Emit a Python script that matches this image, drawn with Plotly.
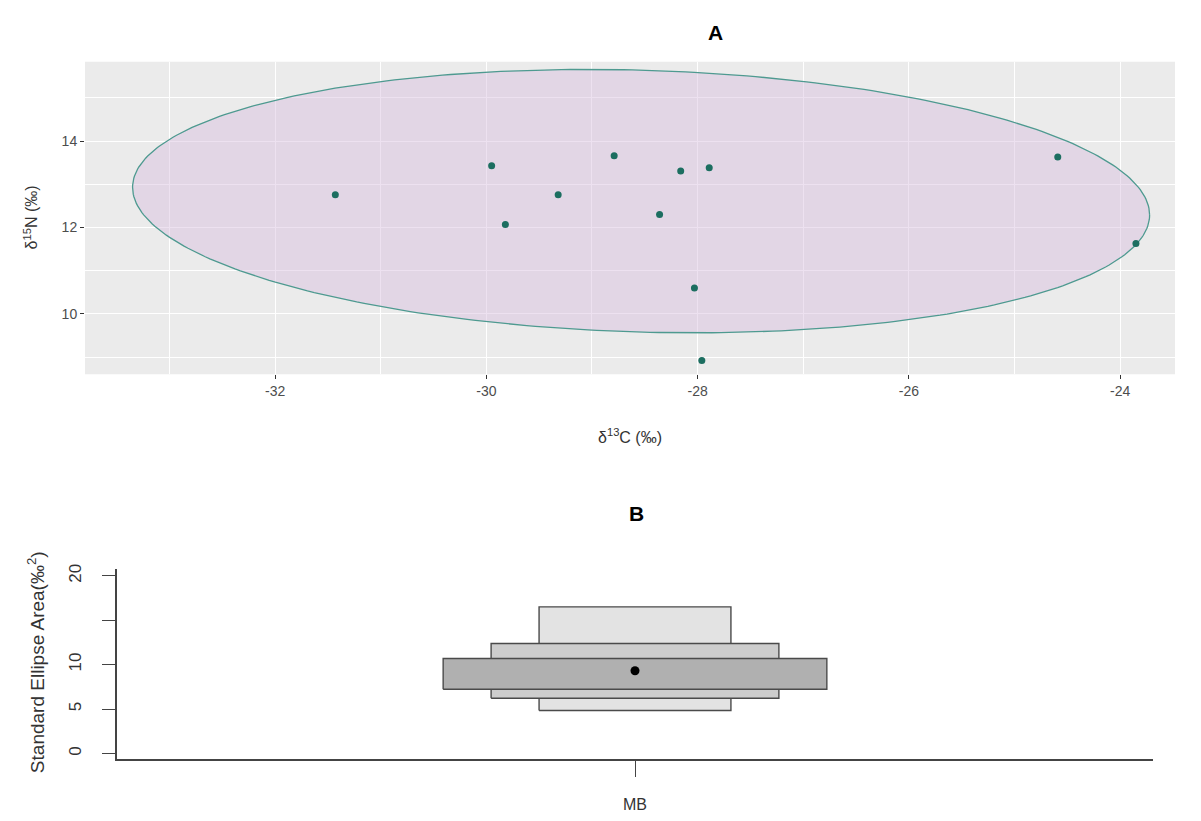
import numpy as np
import plotly.graph_objects as go

# ---- Panel A data: isotope values ----
d13C = [-31.43, -29.95, -29.82, -29.32, -28.79, -28.36, -28.16, -27.89, -28.03, -27.96, -24.59, -23.85]
d15N = [12.76, 13.43, 12.07, 12.76, 13.66, 12.30, 13.31, 13.38, 10.60, 8.92, 13.63, 11.63]

# ellipse parameters (centre and covariance-shape matrix)
ell_center = [-28.535, 12.61]
ell_sxx = 23.18
ell_syy = 9.30
ell_sxy = -1.54

# ---- Panel B data: SEA credible intervals ----
group = "MB"
group_x = 1.0
sea_mode = 9.31
sea_levels = ["95%", "75%", "50%"]
sea_low = [4.84, 6.22, 7.23]
sea_high = [16.5, 12.37, 10.69]
box_widths = [0.1, 0.15, 0.2]
box_colors = ["#E3E3E3", "#CDCDCD", "#B0B0B0"]

fig = go.Figure()

# ellipse path
S = np.array([[ell_sxx, ell_sxy], [ell_sxy, ell_syy]])
L = np.linalg.cholesky(S)
t = np.linspace(0, 2 * np.pi, 361)
circ = np.vstack([np.cos(t), np.sin(t)])
pts = L @ circ
ex = pts[0] + ell_center[0]
ey = pts[1] + ell_center[1]
fig.add_trace(go.Scatter(x=ex, y=ey, mode="lines", fill="toself",
                         fillcolor="rgba(214,188,222,0.45)",
                         line=dict(color="#4E9A90", width=1.3),
                         hoverinfo="skip", showlegend=False,
                         xaxis="x", yaxis="y"))
fig.add_trace(go.Scatter(x=d13C, y=d15N, mode="markers",
                         marker=dict(color="#1C6E60", size=7),
                         showlegend=False, xaxis="x", yaxis="y"))

# Panel B boxes
for lo, hi, w, c in zip(sea_low, sea_high, box_widths, box_colors):
    fig.add_trace(go.Scatter(
        x=[group_x - w / 2, group_x + w / 2, group_x + w / 2, group_x - w / 2, group_x - w / 2],
        y=[lo, lo, hi, hi, lo], mode="lines", fill="toself", fillcolor=c,
        line=dict(color="#4A4A4A", width=1.4), showlegend=False,
        hoverinfo="skip", xaxis="x2", yaxis="y2"))
fig.add_trace(go.Scatter(x=[group_x], y=[sea_mode], mode="markers",
                         marker=dict(color="black", size=9),
                         showlegend=False, xaxis="x2", yaxis="y2"))

# page body has an 8px margin: figure sized to fit inside the 1201x821 window
OFF = 8
W, H = 1201 - 2 * OFF, 821 - 2 * OFF
def px(x):
    return (x - OFF) / W
def py(y):
    return 1 - (y - OFF) / H

def label(text, x, y, size, color="#333333", angle=0):
    return dict(text=text, x=px(x), y=py(y), xref="paper", yref="paper",
                xanchor="center", yanchor="middle", showarrow=False,
                textangle=angle, font=dict(size=size, color=color))

fig.update_layout(
    width=W, height=H,
    margin=dict(l=0, r=0, t=0, b=0),
    paper_bgcolor="white",
    plot_bgcolor="white",
    font=dict(family="Liberation Sans, Arial, sans-serif", color="#4D4D4D"),
    xaxis=dict(domain=[px(85), px(1175)], range=[-33.80, -23.48], anchor="y",
               tickvals=[-32, -30, -28, -26, -24], ticktext=["-32", "-30", "-28", "-26", "-24"],
               ticks="outside", ticklen=4, tickcolor="#333333", tickwidth=1,
               tickfont=dict(size=14, color="#4D4D4D"),
               showgrid=True, gridcolor="white", gridwidth=1.3,
               minor=dict(tickvals=[-33, -31, -29, -27, -25], showgrid=True,
                          gridcolor="white", gridwidth=0.6),
               zeroline=False, showline=False),
    yaxis=dict(domain=[py(372), py(57)], range=[8.60, 15.84], anchor="x",
               tickvals=[10, 12, 14], ticks="outside", ticklen=4,
               tickcolor="#333333", tickwidth=1,
               tickfont=dict(size=14, color="#4D4D4D"),
               showgrid=True, gridcolor="white", gridwidth=1.3,
               minor=dict(tickvals=[9, 11, 13, 15], showgrid=True,
                          gridcolor="white", gridwidth=0.6),
               zeroline=False, showline=False),
    xaxis2=dict(domain=[px(117), px(1153)], range=[0.73, 1.27], anchor="y2",
                tickvals=[group_x], ticktext=[group], ticks="outside", ticklen=16,
                tickcolor="#444444", tickwidth=1.3, ticklabelstandoff=14,
                tickfont=dict(size=16, color="#333333"),
                showgrid=False, zeroline=False, showline=True,
                linecolor="#444444", linewidth=1.5),
    yaxis2=dict(domain=[py(760), py(568)], range=[-0.67, 20.78], anchor="x2",
                tickvals=[0, 5, 10, 20],
                tickangle=-90, ticks="outside", ticklen=13, ticklabelstandoff=14,
                tickcolor="#444444", tickwidth=1.3,
                tickfont=dict(size=17, color="#333333"),
                minor=dict(tickvals=[15], ticks="outside", ticklen=13,
                           tickcolor="#444444", tickwidth=1.3, showgrid=False),
                showgrid=False, zeroline=False, showline=True,
                linecolor="#444444", linewidth=1.5),
    shapes=[dict(type="rect", xref="paper", yref="paper",
                 x0=px(85), x1=px(1175), y0=py(372), y1=py(57),
                 fillcolor="#EBEBEB", line=dict(width=0), layer="below")],
    annotations=[
        label("<b>A</b>", 715, 28, 21, "black"),
        label("δ<sup>13</sup>C (‰)", 630, 434, 16),
        label("δ<sup>15</sup>N (‰)", 31, 214, 16, angle=-90),
        label("<b>B</b>", 636, 512, 21, "black"),
        label("Standard Ellipse Area(‰<sup>2</sup>)", 36, 662, 19, angle=-90),
    ],
)

fig.write_html("out.html")
